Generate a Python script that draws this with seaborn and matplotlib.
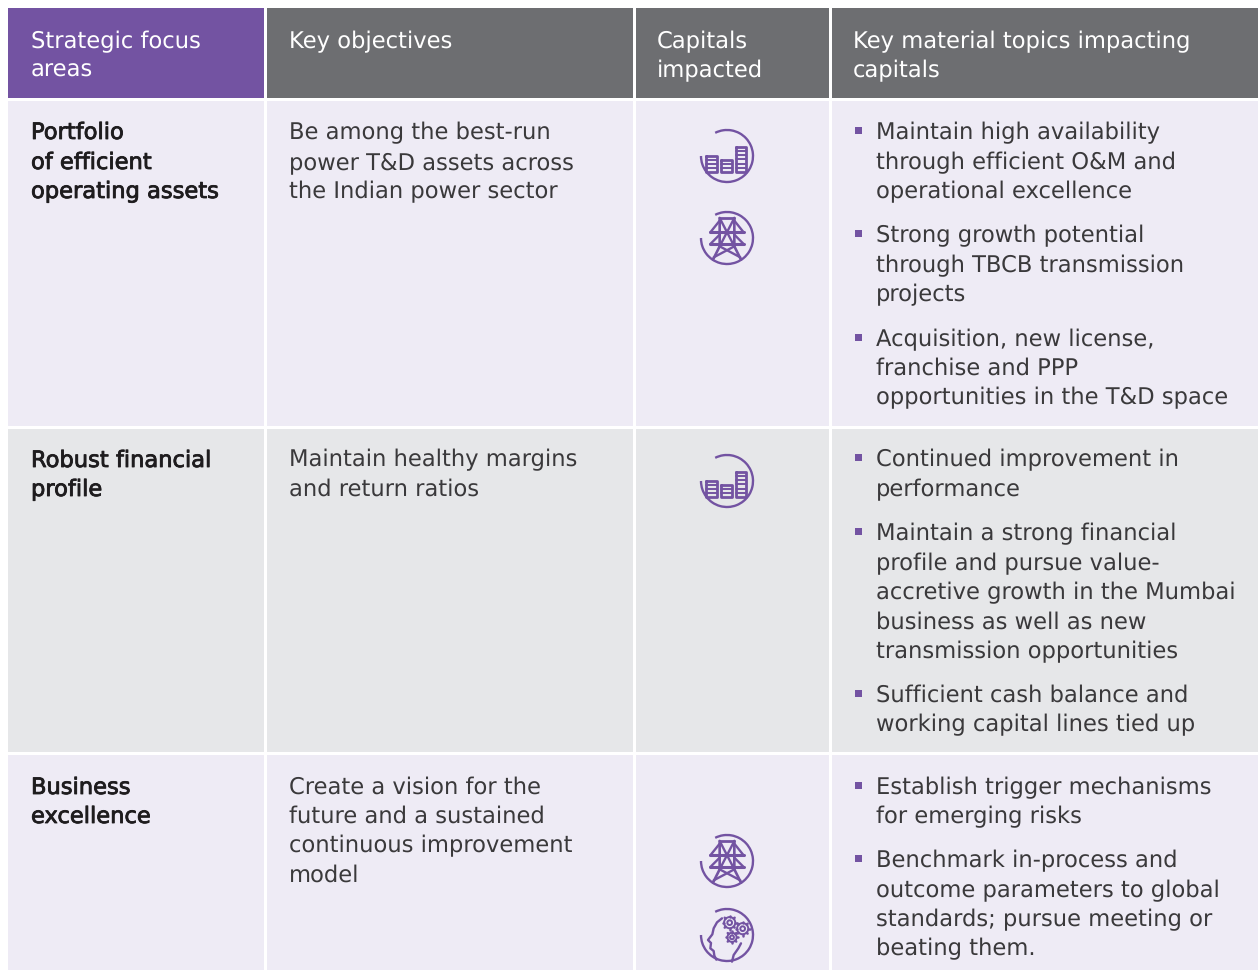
import numpy as np
import matplotlib
matplotlib.use("Agg")
import matplotlib.pyplot as plt
import matplotlib.patheffects as pe
from matplotlib.patches import Rectangle, Arc, Circle
import seaborn as sns

PURPLE = "#7353A2"
GREY = "#6D6E71"
ROW_A = "#EEEBF5"
ROW_B = "#E6E7E9"
INK = "#3A393B"
DARK = "#1E1C1E"

col_edges = [(8, 264), (267, 633), (636, 829), (832, 1258)]
row_edges = [(8, 98), (101, 426), (429, 752), (755, 970)]

header_lines = [
    (31, 48, "Strategic focus"), (31, 77, "areas"),
    (289, 48, "Key objectives"),
    (657, 48, "Capitals"), (657, 77, "impacted"),
    (853, 48, "Key material topics impacting"), (853, 77, "capitals"),
]
focus_lines = [
    (139, "Portfolio"), (169, "of efficient"), (198, "operating assets"),
    (467, "Robust financial"), (496, "profile"),
    (794, "Business"), (823, "excellence"),
]
objective_lines = [
    (139, "Be among the best-run"), (169, "power T&D assets across"), (198, "the Indian power sector"),
    (466, "Maintain healthy margins"), (496, "and return ratios"),
    (794, "Create a vision for the"), (823, "future and a sustained"),
    (852, "continuous improvement"), (882, "model"),
]
topic_lines = [
    (139, "Maintain high availability"), (169, "through efficient O&M and"), (198, "operational excellence"),
    (242, "Strong growth potential"), (272, "through TBCB transmission"), (301, "projects"),
    (346, "Acquisition, new license,"), (375, "franchise and PPP"), (404, "opportunities in the T&D space"),
    (466, "Continued improvement in"), (496, "performance"),
    (540, "Maintain a strong financial"), (570, "profile and pursue value-"),
    (599, "accretive growth in the Mumbai"), (629, "business as well as new"), (658, "transmission opportunities"),
    (702, "Sufficient cash balance and"), (731, "working capital lines tied up"),
    (794, "Establish trigger mechanisms"), (823, "for emerging risks"),
    (867, "Benchmark in-process and"), (897, "outcome parameters to global"),
    (926, "standards; pursue meeting or"), (955, "beating them."),
]
bullet_rows = [131, 234, 338, 458, 532, 694, 786, 859]
icon_bars = [(727, 156), (727, 481)]
icon_towers = [(727, 238), (727, 861)]
icon_heads = [(727, 935)]

sns.set_theme(style="white")
plt.rcParams["font.family"] = ["DejaVu Sans"]
plt.rcParams["text.hinting"] = "no_hinting"

W, H = 1258, 971
fig = plt.figure(figsize=(W / 100, H / 100), dpi=100, facecolor="white")
ax = fig.add_axes([0, 0, 1, 1])
ax.set_xlim(0, W)
ax.set_ylim(H, 0)
ax.axis("off")

row_colors = [None, ROW_A, ROW_B, ROW_A]
for r, (y0, y1) in enumerate(row_edges):
    for c, (x0, x1) in enumerate(col_edges):
        col = row_colors[r] if r else (PURPLE if c == 0 else GREY)
        ax.add_patch(Rectangle((x0, y0), x1 - x0, y1 - y0, fc=col, ec="none", zorder=1))

FS = 16.25
for x, y, t in header_lines:
    ax.text(x, y, t, color="white", fontsize=FS, va="baseline", zorder=3)
for y, t in focus_lines:
    ax.text(31, y, t, color=DARK, fontsize=FS, va="baseline", zorder=3,
            path_effects=[pe.withStroke(linewidth=0.6, foreground=DARK)])
for y, t in objective_lines:
    ax.text(289, y, t, color=INK, fontsize=FS, va="baseline", zorder=3)
for y, t in topic_lines:
    ax.text(876, y, t, color=INK, fontsize=FS, va="baseline", zorder=3)
for y in bullet_rows:
    ax.add_patch(Rectangle((855, y - 4), 7, 7, fc=PURPLE, ec="none", zorder=3))

LW = 1.7


def ring(cx, cy):
    ax.add_patch(Arc((cx, cy), 52, 52, theta1=-117, theta2=180, color=PURPLE, lw=LW, zorder=3))


def path(cx, cy, pts, lw=LW):
    pts = np.array(pts, float) / 3
    ax.plot(cx + pts[:, 0], cy + pts[:, 1], color=PURPLE, lw=lw, solid_capstyle="round", zorder=3)


def bars_icon(cx, cy):
    ring(cx, cy)
    for x0, x1, y0, n in [(-62, -30, 0, 3), (-18, 14, 11, 2), (26, 58, -26, 5)]:
        y1 = 47
        path(cx, cy, [(x0, y0), (x1, y0), (x1, y1), (x0, y1), (x0, y0)], lw=2.0)
        for yy in np.linspace(y0, y1, n + 2)[1:-1]:
            path(cx, cy, [(x0, yy), (x1, yy)], lw=1.4)


def tower_icon(cx, cy):
    ring(cx, cy)
    path(cx, cy, [(-22, -60), (22, -60)], lw=2.0)
    path(cx, cy, [(-22, -60), (-22, 25), (-42, 65)], lw=1.9)
    path(cx, cy, [(22, -60), (22, 25), (42, 65)], lw=1.9)
    path(cx, cy, [(-22, -60), (22, 25)])
    path(cx, cy, [(22, -60), (-22, 25)])
    path(cx, cy, [(-50, -17), (50, -17)], lw=2.2)
    path(cx, cy, [(-50, 18), (50, 18)], lw=2.2)
    path(cx, cy, [(-50, -17), (-22, -52)])
    path(cx, cy, [(50, -17), (22, -52)])
    path(cx, cy, [(-50, 18), (-22, -10)])
    path(cx, cy, [(50, 18), (22, -10)])
    path(cx, cy, [(-22, 25), (40, 58)])
    path(cx, cy, [(22, 25), (-40, 58)])


def gear(cx, cy, r):
    ax.add_patch(Circle((cx, cy), r, fc="none", ec=PURPLE, lw=1.4, zorder=3))
    ax.add_patch(Circle((cx, cy), r * 0.42, fc="none", ec=PURPLE, lw=1.4, zorder=3))
    for a in np.deg2rad(np.arange(0, 360, 45)):
        ax.plot([cx + r * np.cos(a), cx + (r + 1.4) * np.cos(a)],
                [cy + r * np.sin(a), cy + (r + 1.4) * np.sin(a)],
                color=PURPLE, lw=1.8, zorder=3)


def head_icon(cx, cy):
    ring(cx, cy)
    path(cx, cy, [(-15, -50), (-30, -38), (-40, -20), (-44, -2), (-57, 15), (-48, 24), (-50, 40),
                  (-40, 48), (-38, 62), (-32, 74)])
    path(cx, cy, [(15, 80), (20, 60), (34, 40), (42, 25)])
    gear(cx + 8 / 3, cy - 37 / 3, 5.6)
    gear(cx + 47 / 3, cy - 19 / 3, 5.6)
    gear(cx + 15 / 3, cy + 7 / 3, 4.6)


for c in icon_bars:
    bars_icon(*c)
for c in icon_towers:
    tower_icon(*c)
for c in icon_heads:
    head_icon(*c)

fig.savefig("out.png", dpi=100, facecolor="white")
